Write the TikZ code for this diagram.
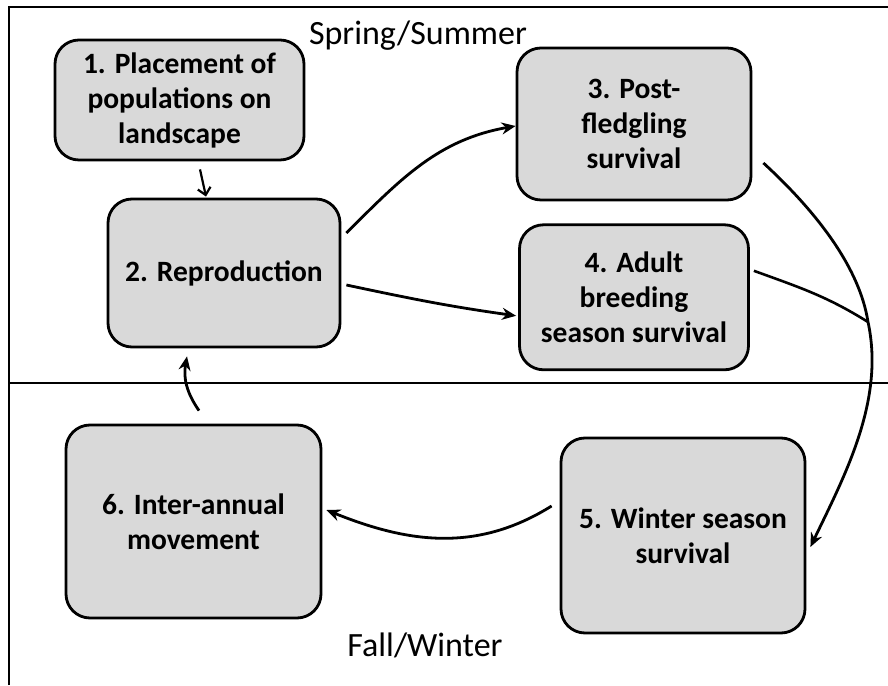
\documentclass[tikz,border=0pt]{standalone}
\usepackage{fontspec}
\setmainfont{Carlito}
\usetikzlibrary{positioning,arrows.meta}
\definecolor{boxgray}{gray}{0.85}

\begin{document}
\begin{tikzpicture}[x=1pt,y=1pt,
    box/.style={draw,rectangle,rounded corners=24pt,fill=boxgray,line width=2.8pt,align=center,font=\fontsize{29.5}{35}\selectfont\bfseries},
    link/.style={line width=2.8pt,-{Stealth[length=14pt,width=12pt]}},
    season/.style={font=\fontsize{34}{40}\selectfont}]
    \useasboundingbox (0,0) rectangle (888,685);
    % frame and season divider
    \draw[line width=2.6pt](9,0)--(9,678)--(888,678);
    \draw[line width=2.8pt](9,302)--(888,302);
    \node[season](springlabel) at (418,649){Spring/Summer};
    \node[season](falllabel) at (425,40){Fall/Winter};
    % summer boxes
    \node[box, minimum width=249pt, minimum height=120pt](placement) at (179.5,585){1. Placement of\\populations on\\landscape};
    \node[box, minimum width=232pt, minimum height=148pt](reproduction) at (224,412){2. Reproduction};
    \node[box, minimum width=234pt, minimum height=152pt](fledgling) at (634,561){3. Post-\\fledgling\\survival};
    \node[box, minimum width=229pt, minimum height=145pt, below=22pt of fledgling](adult){4. Adult\\breeding\\season survival};
    % winter boxes
    \node[box, minimum width=244pt, minimum height=195pt](winter) at (683,149.5){5. Winter season\\survival};
    \node[box, minimum width=255pt, minimum height=193pt](movement) at (193.5,163.5){6. Inter-annual\\movement};
    \coordinate (junction) at (868,363);
    % connectors
    \draw[line width=2.2pt,-{Straight Barb[length=7pt,width=13pt]}]([xshift=20.5pt,yshift=-8pt]placement.south)--([xshift=-18pt,yshift=1pt]reproduction.north);
    \draw[link]([xshift=5pt,yshift=40pt]reproduction.east) to[out=45,in=190] ([yshift=-2pt]fledgling.west);
    \draw[link]([xshift=5pt,yshift=-12pt]reproduction.east) to[out=-12,in=172] ([xshift=-2pt,yshift=-18.5pt]adult.west);
    \draw[line width=2.6pt]([xshift=4pt,yshift=26.5pt]adult.east) to[out=-20,in=148] (junction);
    \draw[link]([xshift=11pt,yshift=-39pt]fledgling.east) .. controls (820,470) and (860,415) .. (junction) .. controls (885,285) and (845,210) .. ([xshift=4pt,yshift=-11.5pt]winter.east);
    \draw[link]([xshift=-8pt,yshift=29.5pt]winter.west) to[out=212,in=-22] ([xshift=4pt,yshift=11.5pt]movement.east);
    \draw[link]([xshift=5.5pt,yshift=13pt]movement.north) to[out=125,in=-100] ([xshift=-37pt,yshift=-8pt]reproduction.south);
\end{tikzpicture}
\end{document}
